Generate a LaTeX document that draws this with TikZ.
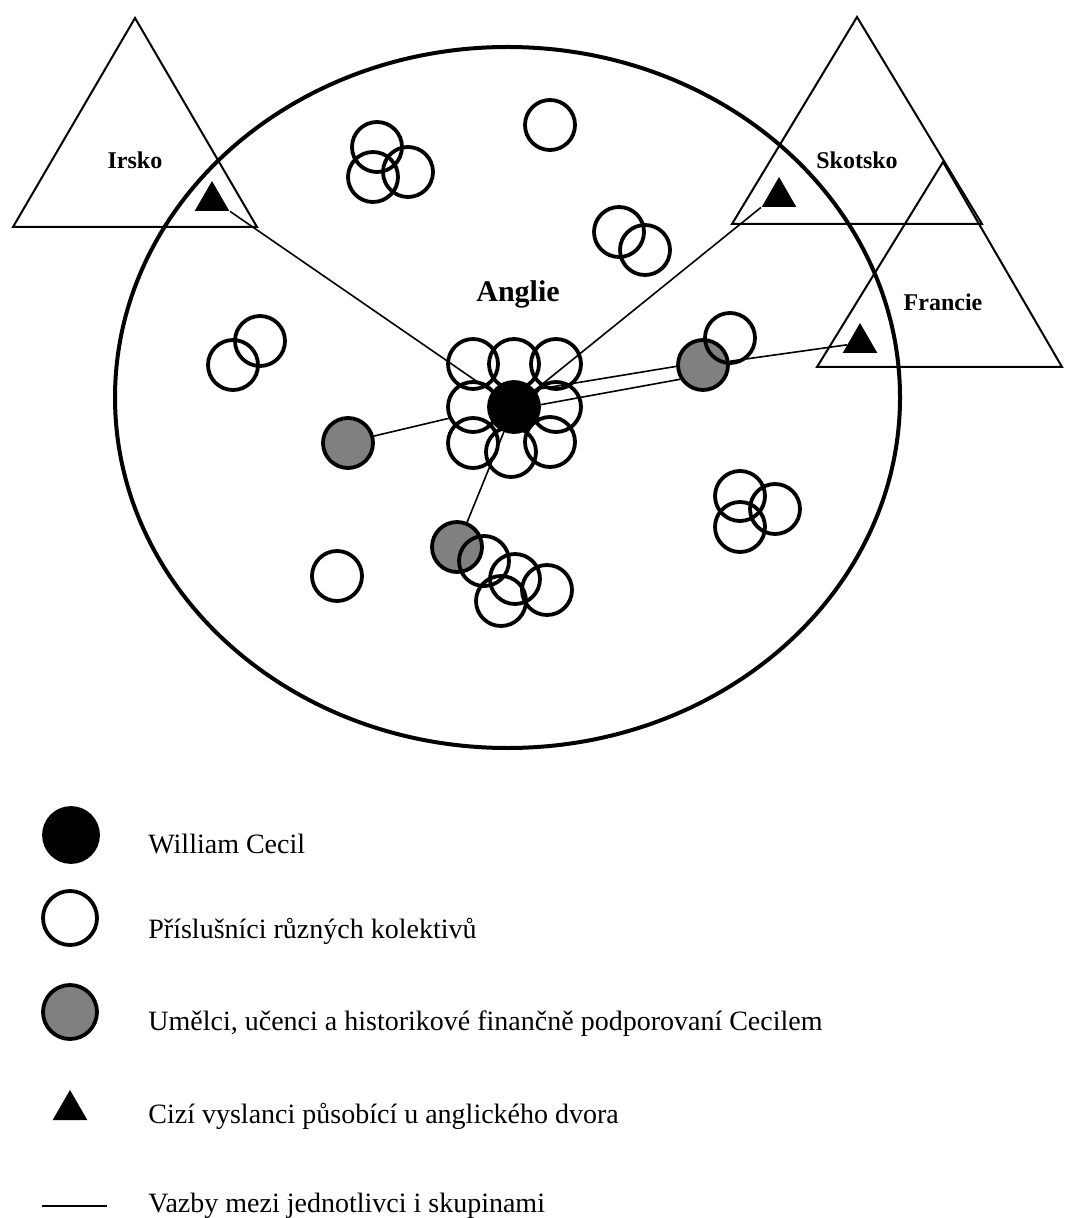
\documentclass[tikz,border=0pt]{standalone}
\usepackage{fontspec}
\setmainfont{Liberation Serif}
\usetikzlibrary{shapes.geometric}

\begin{document}
\begin{tikzpicture}[x=0.5pt,y=-0.5pt,
        member/.style={circle,draw,line width=1.9pt,minimum size=25pt,inner sep=0pt},
        patron/.style={member,fill=gray},
        chief/.style={member,fill=black},
        envoy/.style={regular polygon,regular polygon sides=3,fill=black,inner sep=0pt,minimum size=20pt},
        land/.style={line width=1pt},
        tie/.style={line width=0.8pt},
        country/.style={font=\fontsize{12pt}{14pt}\selectfont\bfseries},
        legtext/.style={anchor=base west,inner sep=0pt,font=\fontsize{14pt}{17pt}\selectfont}]
        \useasboundingbox (0,0) rectangle (1071,1218);
        % Anglie
        \draw[line width=2pt] (507.5,397.5) ellipse (392.5 and 350.5);
        \node[font=\fontsize{15pt}{18pt}\selectfont\bfseries] (anglie) at (518,294) {Anglie};
        % neighbouring countries
        \draw[land] (135,18) -- (13,227) -- (257,227) -- cycle;
        \draw[land] (857,17) -- (732,224) -- (982,224) -- cycle;
        \draw[land] (943,162) -- (817,367) -- (1062,367) -- cycle;
        \node[country] (irsko) at (135,160) {Irsko};
        \node[country] (skotsko) at (857,160) {Skotsko};
        \node[country] (francie) at (943,302) {Francie};
        \node[envoy] (irse) at (212,201) {};
        \node[envoy] (skote) at (779,197) {};
        \node[envoy] (frane) at (860,343) {};
        % patrons
        \node[patron] (g1) at (348,443) {};
        \node[patron] (g2) at (703,365) {};
        \node[patron] (g3) at (457,547) {};
        % Cecil and his ring
        \node[chief] (cecil) at (514,407) {};
        \node[member] (rtl) at (473,364) {};
        \node[member] (rtc) at (514,364) {};
        \node[member] (rtr) at (556,364) {};
        \node[member] (rml) at (473,407) {};
        \node[member] (rmr) at (556,407) {};
        \node[member] (rbl) at (473,443) {};
        \node[member] (rbc) at (511,452) {};
        \node[member] (rbr) at (550,442) {};
        % other groups
        \node[member] (m1) at (377,147) {};
        \node[member] (m2) at (373,177) {};
        \node[member] (m3) at (408,172) {};
        \node[member] (m4) at (550,125) {};
        \node[member] (m5) at (619,232) {};
        \node[member] (m6) at (645,250) {};
        \node[member] (m7) at (260,341) {};
        \node[member] (m8) at (233,365) {};
        \node[member] (m9) at (730,338) {};
        \node[member] (m10) at (740,496) {};
        \node[member] (m11) at (740,527) {};
        \node[member] (m12) at (775,509) {};
        \node[member] (m13) at (337,576) {};
        \node[member] (m14) at (484,561) {};
        \node[member] (m15) at (515,579) {};
        \node[member] (m16) at (501,601) {};
        \node[member] (m17) at (547,590) {};
        % ties
        \draw[tie] (cecil) -- (irse.corner 3);
        \draw[tie] (cecil) -- (skote.corner 2);
        \draw[tie] (g2) -- (frane);
        \draw[tie] (g2.183) -- (cecil.40);
        \draw[tie] (g2.212) -- (cecil.5);
        \draw[tie] (g1.15) -- (rml.205);
        \draw[tie] (g3) -- (cecil);
        % legend
        \node[chief,minimum size=27pt] (lcecil) at (71,835) {};
        \node[member,minimum size=27pt] (lmember) at (70,918) {};
        \node[patron,minimum size=27pt] (lpatron) at (70,1012) {};
        \node[envoy] (lenvoy) at (70,1110) {};
        \coordinate (la) at (42,1206);
        \coordinate (lb) at (107,1206);
        \draw[tie] (la) -- (lb);
        \node[legtext] (t1) at (148,853) {William Cecil};
        \node[legtext] (t2) at (148,938) {Příslušníci různých kolektivů};
        \node[legtext] (t3) at (148,1030) {Umělci, učenci a historikové finančně podporovaní Cecilem};
        \node[legtext] (t4) at (148,1123) {Cizí vyslanci působící u anglického dvora};
        \node[legtext] (t5) at (148,1212) {Vazby mezi jednotlivci i skupinami};
\end{tikzpicture}
\end{document}
